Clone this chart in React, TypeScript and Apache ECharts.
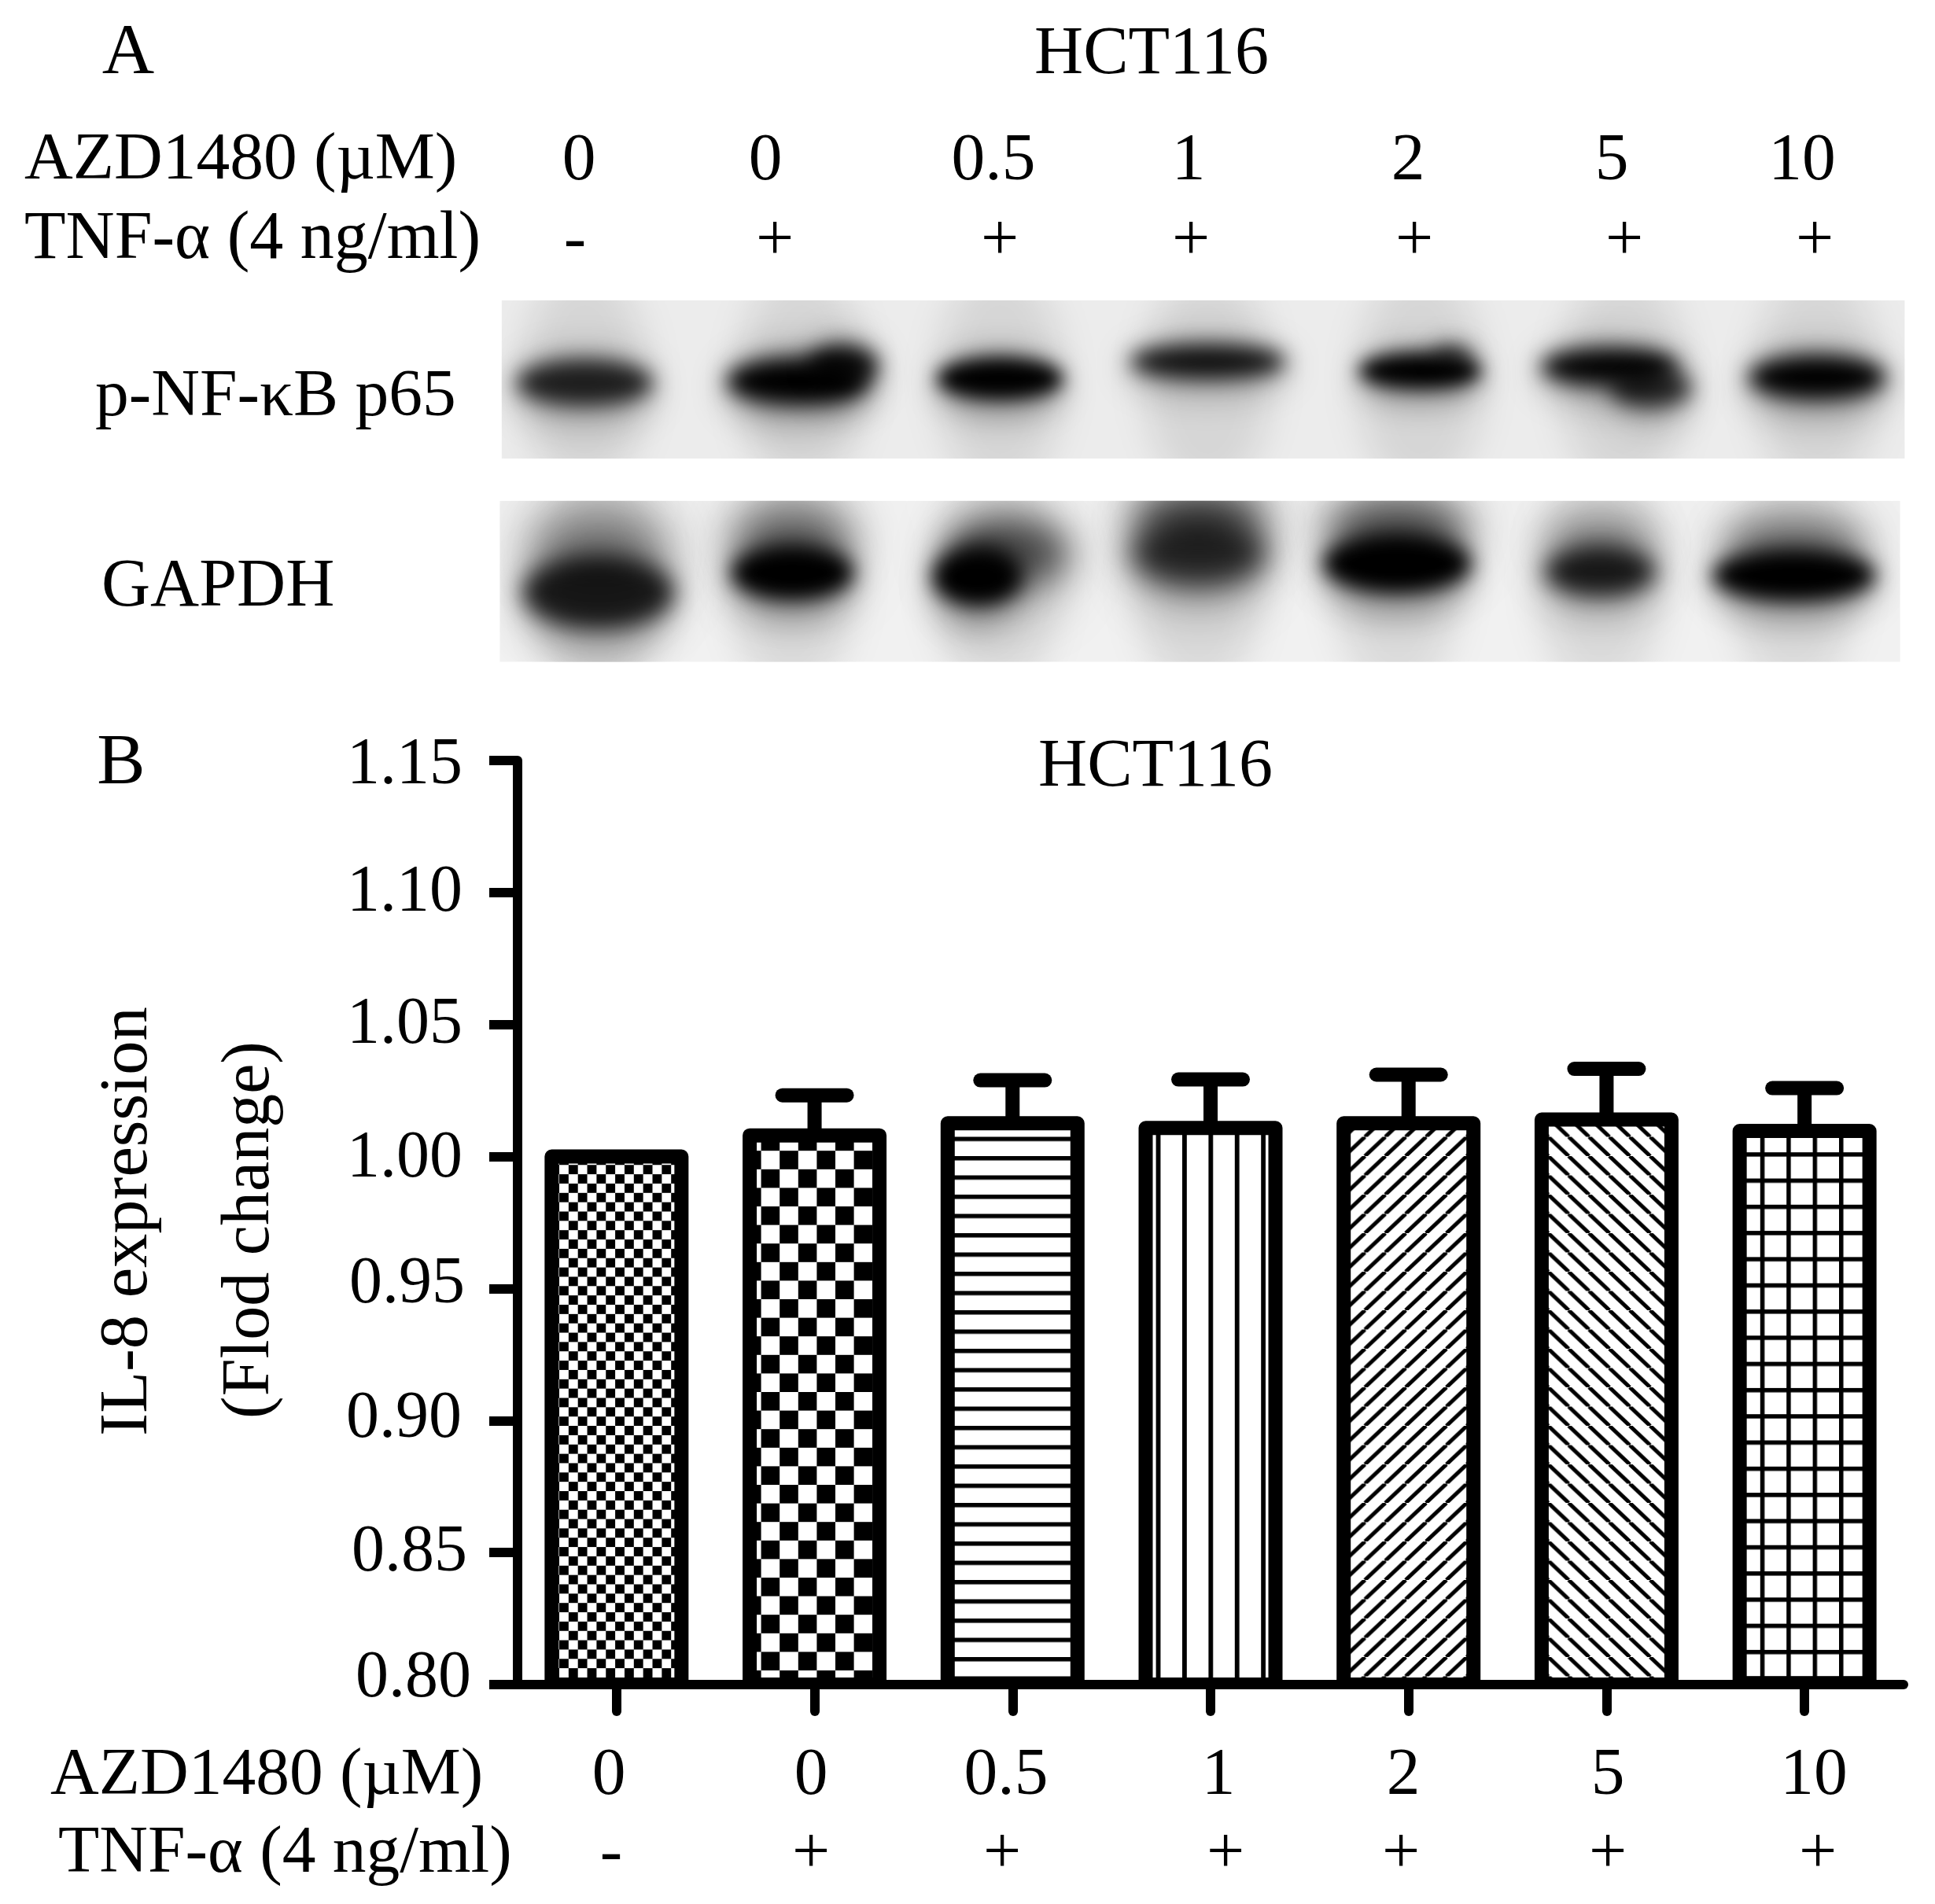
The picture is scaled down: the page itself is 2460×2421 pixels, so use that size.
import React, { useEffect, useRef } from "react";
import * as echarts from "echarts";

const FONT = "'Liberation Serif', serif";
const CELL_LINE = "HCT116";
const AZD_LABEL = "AZD1480 (µM)";
const TNF_LABEL = "TNF-α (4 ng/ml)";
const AZD_DOSES = ["0", "0", "0.5", "1", "2", "5", "10"];
const TNF_SIGNS = ["-", "+", "+", "+", "+", "+", "+"];
const BLOT_LABELS = ["p-NF-κB p65", "GAPDH"];
const Y_TITLE_LINES = ["IL-8 expression", "(Flod change)"];
const Y_TICKS = { min: 0.8, max: 1.15, step: 0.05 };
const CATEGORIES = ["c1", "c2", "c3", "c4", "c5", "c6", "c7"];
const MEANS = [1.0, 1.008, 1.0126, 1.0108, 1.0126, 1.014, 1.0097];
const ERROR_TOPS = [1.0, 1.0232, 1.0289, 1.0292, 1.031, 1.0332, 1.0259];

const TOP_DOSE_X = [736, 973, 1263, 1511, 1790, 2049, 2291];
const TOP_SIGN_X = [731, 985, 1271, 1514, 1798, 2065, 2307];
const BOTTOM_DOSE_X = [774, 1031, 1279, 1549, 1784, 2044, 2306];
const BOTTOM_SIGN_X = [777, 1031, 1274, 1558, 1781, 2044, 2311];

// Hand-set nudges of the tick labels in the reference (up, right-padding), by tick text
const TICK_NUDGE: Record<string, [number, number]> = {
  "0.80": [14, 0], "0.85": [6, 5], "0.90": [8, 12], "0.95": [11, 8],
  "1.00": [3, 11], "1.05": [5, 11], "1.10": [5, 11], "1.15": [0, 11],
};

// Blot blobs, in the crop's coordinates: cx, cy, rx, ry, darkness, blur
const BLOT_TOP_BLOBS = [
  [105, 350, 74, 88, 0.82, 13], [335, 345, 76, 90, 1, 13], [385, 285, 38, 78, 0.9, 13],
  [555, 335, 68, 82, 1, 11], [780, 270, 84, 66, 0.9, 13], [1010, 305, 66, 70, 1, 11],
  [1045, 245, 22, 42, 0.55, 12], [1215, 290, 74, 72, 0.98, 13], [1260, 370, 44, 74, 0.75, 13],
  [1440, 330, 74, 84, 1, 13],
];
const BLOT_BOTTOM_BLOBS = [
  [120, 1150, 82, 140, 0.84, 14], [120, 980, 75, 150, 0.35, 30],
  [330, 1075, 66, 105, 1, 12], [330, 950, 65, 130, 0.45, 26],
  [530, 1090, 48, 112, 1, 12], [565, 1000, 65, 130, 0.6, 22],
  [770, 1000, 74, 130, 0.76, 18], [770, 860, 75, 100, 0.55, 24],
  [985, 1040, 80, 115, 1, 12], [985, 900, 80, 110, 0.5, 24],
  [1205, 1070, 60, 95, 0.84, 14], [1205, 950, 60, 90, 0.3, 24],
  [1415, 1085, 88, 100, 1, 12], [1415, 960, 80, 90, 0.4, 24],
];
const LANE_TOP_X = [105, 340, 555, 780, 1010, 1230, 1440];
const LANE_BOTTOM_X = [120, 330, 550, 770, 985, 1205, 1415];

function tile(w: number, h: number, body: string) {
  const svg = `<svg xmlns="http://www.w3.org/2000/svg" width="${w}" height="${h}" viewBox="0 0 ${w} ${h}"><rect width="${w}" height="${h}" fill="#fff"/>${body}</svg>`;
  return "data:image/svg+xml;charset=utf-8," + encodeURIComponent(svg);
}
function pattern(w: number, h: number, x: number, y: number, body: string) {
  return { image: tile(w, h, body), repeat: "repeat", imageWidth: w, imageHeight: h, x, y };
}
const blackRect = (x: number, y: number, w: number, h: number) => `<rect x="${x}" y="${y}" width="${w}" height="${h}"/>`;
const diag = (x1: number, y1: number, x2: number, y2: number, sw: number) =>
  `<line x1="${x1}" y1="${y1}" x2="${x2}" y2="${y2}" stroke="#000" stroke-width="${sw}"/>`;

function barPatterns() {
  const s = 11.85, b = 23.6, W = 25.9, H = 24.5, t = 5;
  return [
    pattern(2 * s, 2 * s, 723.5, 1481.6, blackRect(0, 0, s, s) + blackRect(s, s, s, s)),
    pattern(2 * b, 2 * b, 999.5, 1466.7, blackRect(0, 0, b, b) + blackRect(b, b, b, b)),
    pattern(20, 24.5, 0, 1453.3 - 2.75, blackRect(0, 0, 20, 5.5)),
    pattern(33.4, 20, 1489 - 2.9, 0, blackRect(0, 0, 5.8, 20)),
    pattern(W, H, 1717, 1464.3 - H, diag(-W, H, 0, 0, t) + diag(0, H, W, 0, t) + diag(W, H, 2 * W, 0, t)),
    pattern(W, H, 1968.4, 1445, diag(-W, 0, 0, H, t) + diag(0, 0, W, H, t) + diag(W, 0, 2 * W, H, t)),
    pattern(33.4, 33.3, 2244.4 - 2.75, 1471.7 - 2.75, blackRect(0, 0, 5.5, 33.3) + blackRect(0, 0, 33.4, 5.5)),
  ];
}

function paintPanel(ctx: CanvasRenderingContext2D, x0: number, y0: number, x1: number, y1: number, bg: string, lanes: number[], blobs: number[][]) {
  ctx.save();
  ctx.beginPath();
  ctx.rect(x0, y0, x1 - x0, y1 - y0);
  ctx.clip();
  ctx.fillStyle = bg;
  ctx.fillRect(x0, y0, x1 - x0, y1 - y0);
  const ell = (cx: number, cy: number, rx: number, ry: number, a: number, blur: number) => {
    ctx.filter = `blur(${blur}px)`;
    ctx.fillStyle = `rgba(0,0,0,${a})`;
    ctx.beginPath();
    ctx.ellipse(cx, cy, rx, ry, 0, 0, Math.PI * 2);
    ctx.fill();
  };
  const midY = (y0 + y1) / 2;
  lanes.forEach((x) => ell(x, midY, 70, (y1 - y0) * 0.7, 0.09, 22));
  blobs.forEach(([cx, cy, rx, ry, a, blur]) => ell(cx, cy + 20, rx * 1.05, ry * 1.7, a * 0.28, blur * 1.6));
  blobs.forEach(([cx, cy, rx, ry, a, blur]) => ell(cx, cy, rx, ry, a, blur));
  ctx.restore();
}

function paintBlots() {
  const c = document.createElement("canvas");
  c.width = 1840;
  c.height = 490;
  const ctx = c.getContext("2d")!;
  ctx.fillStyle = "#fff";
  ctx.fillRect(0, 0, 1840, 490);
  ctx.setTransform(1 / 0.852, 0, 0, 1 / 3, 0, 0);
  paintPanel(ctx, 15, 35, 1535, 640, "#ececec", LANE_TOP_X, BLOT_TOP_BLOBS);
  paintPanel(ctx, 13, 800, 1530, 1415, "#f1f1f1", LANE_BOTTOM_X, BLOT_BOTTOM_BLOBS);
  return c.toDataURL("image/png");
}

function label(text: string, x: number, y: number, fontSize = 85.5, align = "left", rotation = 0) {
  return {
    type: "text", x, y, rotation, silent: true,
    style: { text, fill: "#000", font: `${fontSize}px ${FONT}`, textAlign: align, textVerticalAlign: "middle" },
  };
}

export default function App() {
  const ref = useRef<HTMLDivElement>(null);
  useEffect(() => {
    document.body.style.margin = "0";
    const chart = echarts.init(ref.current!, null, { renderer: "svg" });
    const patterns = barPatterns();
    const rich: Record<string, any> = {};
    Object.keys(TICK_NUDGE).forEach((k) => {
      rich["t" + k.replace(".", "")] = {
        fontFamily: "Liberation Serif", fontSize: 84, color: "#000",
        padding: [0, TICK_NUDGE[k][1], 2 * TICK_NUDGE[k][0], 0],
      };
    });
    const texts = [
      label("A", 163, 62, 92, "center"),
      label(CELL_LINE, 1464, 64, 86, "center"),
      label(AZD_LABEL, 31, 198),
      label(TNF_LABEL, 31, 299, 86),
      label(BLOT_LABELS[0], 121, 499),
      label(BLOT_LABELS[1], 129, 741, 86),
      label("B", 154, 965, 92, "center"),
      label(CELL_LINE, 1469, 970, 86, "center"),
      label(AZD_LABEL, 64, 2252),
      label(TNF_LABEL, 74, 2351),
      label(Y_TITLE_LINES[0], 157, 1553, 86.5, "center", Math.PI / 2),
      label(Y_TITLE_LINES[1], 312, 1564, 86, "center", Math.PI / 2),
      ...AZD_DOSES.map((d, i) => label(d, TOP_DOSE_X[i], 199, 85.5, "center")),
      ...TNF_SIGNS.map((d, i) => label(d, TOP_SIGN_X[i], 301, 85.5, "center")),
      ...AZD_DOSES.map((d, i) => label(d, BOTTOM_DOSE_X[i], 2252, 85.5, "center")),
      ...TNF_SIGNS.map((d, i) => label(d, BOTTOM_SIGN_X[i], 2352, 85.5, "center")),
    ];
    chart.setOption({
      animation: false,
      backgroundColor: "#fff",
      grid: { left: 658, right: 40, top: 967, bottom: 2421 - 2142, containLabel: false },
      xAxis: {
        type: "category",
        data: CATEGORIES,
        axisLine: { show: true, lineStyle: { color: "#000", width: 12 } },
        axisTick: { show: true, alignWithLabel: true, length: 34, lineStyle: { color: "#000", width: 12, cap: "round" } },
        axisLabel: { show: false },
        splitLine: { show: false },
      },
      yAxis: {
        type: "value",
        min: Y_TICKS.min,
        max: Y_TICKS.max,
        interval: Y_TICKS.step,
        axisLine: { show: true, onZero: false, lineStyle: { color: "#000", width: 12 } },
        axisTick: { show: true, length: 36, lineStyle: { color: "#000", width: 12 } },
        axisLabel: {
          show: true, margin: 59, color: "#000", fontFamily: "Liberation Serif", fontSize: 84, rich,
          formatter: (v: number) => {
            const s = v.toFixed(2);
            return `{t${s.replace(".", "")}|${s}}`;
          },
        },
        splitLine: { show: false },
      },
      series: [
        {
          type: "bar",
          barWidth: 165,
          clip: true,
          data: MEANS.map((v, i) => ({ value: v, itemStyle: { color: patterns[i] } })),
        },
        {
          type: "custom",
          clip: true,
          z: 3,
          data: MEANS.map((m, i) => [i, m, ERROR_TOPS[i]]),
          encode: { x: 0, y: [1, 2] },
          renderItem: (_p: any, api: any) => {
            const base = api.coord([api.value(0), api.value(1)]);
            const top = api.coord([api.value(0), api.value(2)]);
            const floor = api.coord([api.value(0), Y_TICKS.min]);
            const style = { stroke: "#000", lineWidth: 18 };
            const outline = {
              type: "rect",
              shape: { x: base[0] - 82.5, y: base[1], width: 165, height: floor[1] - base[1] },
              style: { ...style, fill: "none", lineJoin: "round" },
            };
            if (api.value(2) <= api.value(1)) return { type: "group", children: [outline] };
            return {
              type: "group",
              children: [
                outline,
                { type: "line", shape: { x1: base[0], y1: base[1], x2: top[0], y2: top[1] }, style },
                { type: "line", shape: { x1: top[0] - 41, y1: top[1], x2: top[0] + 41, y2: top[1] }, style: { ...style, lineCap: "round" } },
              ],
            };
          },
        },
      ],
      graphic: [
        { type: "image", x: 620, y: 370, silent: true, style: { image: paintBlots(), x: 0, y: 0, width: 1840, height: 490 } },
        ...texts,
      ],
    });
    return () => chart.dispose();
  }, []);
  return <div ref={ref} style={{ position: "absolute", left: 0, top: 0, width: 2460, height: 2421 }} />;
}
